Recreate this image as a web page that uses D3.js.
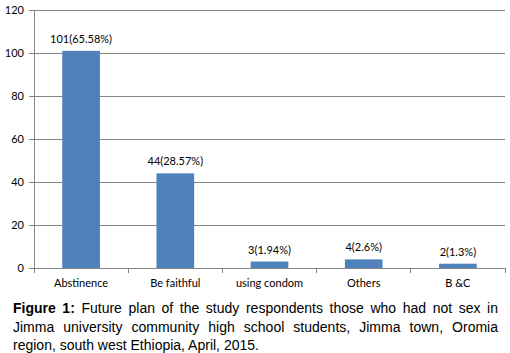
<!DOCTYPE html>
<html>
<head>
<meta charset="utf-8">
<script src="https://cdn.jsdelivr.net/npm/d3@7"></script>
<style>
  body { margin: 0; background: #fff; width: 510px; height: 353px; overflow: hidden; position: relative; }
  #caption {
    position: absolute; left: 13px; top: 299px; width: 485px;
    font-family: "Liberation Sans", Arial, sans-serif; font-size: 14px; line-height: 18.5px;
    text-align: justify; color: #000;
  }
</style>
</head>
<body>
<svg id="chart" width="510" height="300" style="position:absolute;left:0;top:0"></svg>
<div id="caption"><b>Figure 1:</b> Future plan of the study respondents those who had not sex in Jimma university community high school students, Jimma town, Oromia region, south west Ethiopia, April, 2015.</div>
<script>
// data
const categories = ["Abstinence", "Be faithful", "using condom", "Others", "B &C"];
const counts = [101, 44, 3, 4, 2];
const valueLabels = ["101(65.58%)", "44(28.57%)", "3(1.94%)", "4(2.6%)", "2(1.3%)"];
const yTicks = [0, 20, 40, 60, 80, 100, 120];

const svg = d3.select("#chart");
const plotLeft = 34, plotRight = 505, plotTop = 10, plotBottom = 268;
const font = "Lato, 'Open Sans', sans-serif";

const x = d3.scaleBand()
    .domain(categories)
    .range([plotLeft, plotRight])
    .paddingInner(0.6)
    .paddingOuter(0.3);

const y = d3.scaleLinear()
    .domain([0, 120])
    .range([plotBottom, plotTop]);

// gridlines
svg.selectAll("line.grid")
   .data(yTicks.filter(d => d > 0))
   .enter().append("line")
   .attr("class", "grid")
   .attr("x1", plotLeft).attr("x2", plotRight)
   .attr("y1", d => y(d)).attr("y2", d => y(d))
   .attr("stroke", "#868686").attr("stroke-width", 1)
   .attr("shape-rendering", "crispEdges");

// bars
svg.selectAll("rect")
   .data(counts)
   .enter().append("rect")
   .attr("x", (d, i) => x(categories[i]))
   .attr("y", d => y(d))
   .attr("width", x.bandwidth())
   .attr("height", d => plotBottom - y(d))
   .attr("fill", "#4F81BD");

// value labels
svg.selectAll("text.val")
   .data(counts)
   .enter().append("text")
   .attr("class", "val")
   .attr("x", (d, i) => x(categories[i]) + x.bandwidth() / 2)
   .attr("y", d => y(d) - 8)
   .attr("text-anchor", "middle")
   .attr("font-family", font).attr("font-size", 11)
   .attr("fill", "#000")
   .text((d, i) => valueLabels[i]);

// y axis
const yAxis = svg.append("g")
   .attr("transform", `translate(${plotLeft},0)`)
   .call(d3.axisLeft(y).tickValues(yTicks).tickSize(5).tickPadding(5));
yAxis.selectAll("line, path").attr("stroke", "#868686").attr("shape-rendering", "crispEdges");
yAxis.selectAll("text").attr("font-family", font).attr("font-size", 11).attr("fill", "#000");

// x axis: ticks between categories
const boundaries = d3.range(categories.length + 1).map(i => plotLeft + i * (plotRight - plotLeft) / categories.length);
svg.append("line")
   .attr("x1", plotLeft).attr("x2", plotRight)
   .attr("y1", plotBottom).attr("y2", plotBottom)
   .attr("stroke", "#868686").attr("shape-rendering", "crispEdges");
svg.selectAll("line.xt")
   .data(boundaries)
   .enter().append("line")
   .attr("class", "xt")
   .attr("x1", d => d).attr("x2", d => d)
   .attr("y1", plotBottom).attr("y2", plotBottom + 5)
   .attr("stroke", "#868686").attr("shape-rendering", "crispEdges");
svg.selectAll("text.cat")
   .data(categories)
   .enter().append("text")
   .attr("class", "cat")
   .attr("x", d => x(d) + x.bandwidth() / 2)
   .attr("y", plotBottom + 19)
   .attr("text-anchor", "middle")
   .attr("font-family", font).attr("font-size", 11)
   .attr("fill", "#000")
   .text(d => d);
</script>
</body>
</html>
